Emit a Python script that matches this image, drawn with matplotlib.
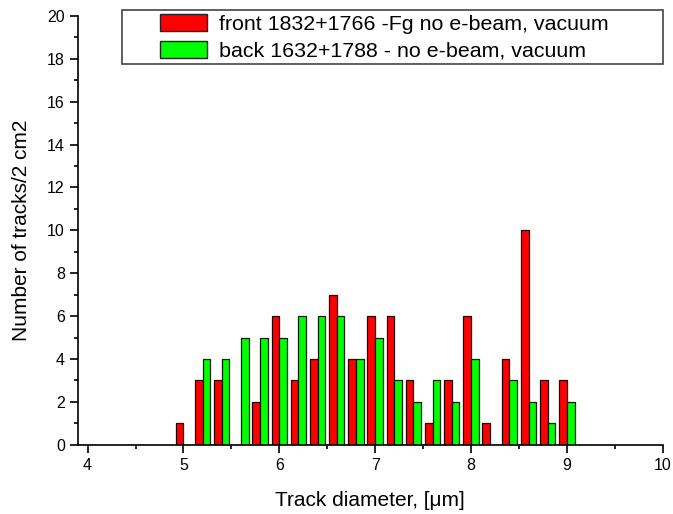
import numpy as np
import matplotlib
matplotlib.use("Agg")
import matplotlib.pyplot as plt
from matplotlib.patches import Rectangle
from matplotlib.ticker import MultipleLocator

plt.rcParams['font.family'] = ['Liberation Sans', 'DejaVu Sans']

# bin centres of the track diameter histogram, um
diameters = [5.0, 5.2, 5.4, 5.6, 5.8, 6.0, 6.2, 6.4, 6.6, 6.8, 7.0,
             7.2, 7.4, 7.6, 7.8, 8.0, 8.2, 8.4, 8.6, 8.8, 9.0]
front_counts = [1, 3, 3, 0, 2, 6, 3, 4, 7, 4, 6, 6, 3, 1, 3, 6, 1, 4, 10, 3, 3]
back_counts = [0, 4, 4, 5, 5, 5, 6, 6, 6, 4, 5, 3, 2, 3, 2, 4, 0, 3, 2, 1, 2]
front_label = "front 1832+1766 -Fg no e-beam, vacuum"
back_label = "back 1632+1788 - no e-beam, vacuum"

x = np.array(diameters)
w = 0.08

fig = plt.figure(figsize=(6.73, 5.14), dpi=100)
ax = fig.add_axes([0.1159, 0.1348, 0.8688, 0.8341])

ax.bar(x - w, front_counts, width=w, align='edge', color='#ff0000',
       edgecolor='#200000', linewidth=0.9, label=front_label)
ax.bar(x, back_counts, width=w, align='edge', color='#00ff00',
       edgecolor='#002000', linewidth=0.9, label=back_label)

ax.set_xlim(3.9, 10)
ax.set_ylim(0, 20)
ax.spines['top'].set_visible(False)
ax.spines['right'].set_visible(False)
ax.xaxis.set_major_locator(MultipleLocator(1))
ax.xaxis.set_minor_locator(MultipleLocator(0.5))
ax.yaxis.set_major_locator(MultipleLocator(2))
ax.yaxis.set_minor_locator(MultipleLocator(1))
ax.tick_params(which='major', direction='out', length=6, width=1.2, labelsize=11.5)
ax.tick_params(which='minor', direction='out', length=3, width=1.2)
for s in ['left', 'bottom']:
    ax.spines[s].set_linewidth(1.2)

ax.set_xlabel("Track diameter, [\u03bcm]", fontsize=15, labelpad=13)
ax.set_ylabel("Number of tracks/2 cm2", fontsize=15, labelpad=11.5)

# legend without its own frame, the box is drawn separately (Origin style)
leg = fig.legend(loc='center left', bbox_to_anchor=(160 / 673, 1 - 37.5 / 514),
                 fontsize=15.4, frameon=False,
                 handlelength=2.2, handleheight=0.85, borderpad=0,
                 labelspacing=0.3, handletextpad=0.56, borderaxespad=0)
for p in leg.get_patches():
    p.set_edgecolor('#222222')
    p.set_linewidth(1.0)
fig.patches.append(Rectangle((121.7 / 673, 1 - 64 / 514), (663 - 121.7) / 673, 54 / 514,
                             transform=fig.transFigure, fill=False,
                             edgecolor='#444444', linewidth=1.2))

fig.savefig("out.png", dpi=100)
